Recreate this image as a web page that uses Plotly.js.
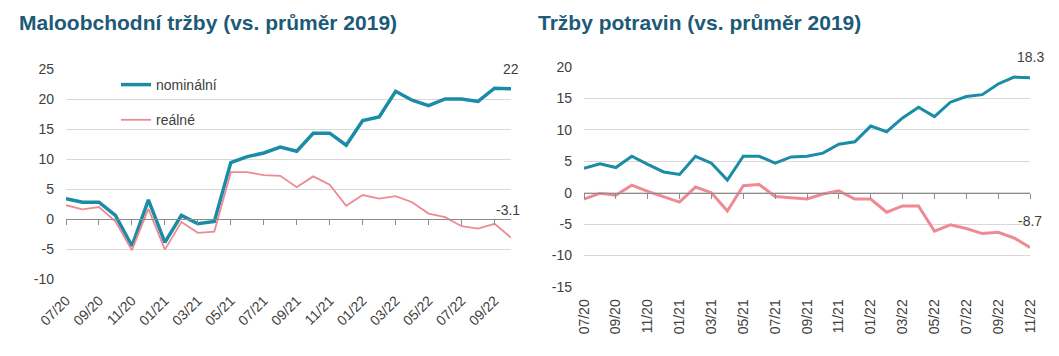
<!DOCTYPE html>
<html><head><meta charset="utf-8">
<script src="https://cdn.plot.ly/plotly-3.0.1.min.js"></script>
<style>body{margin:0;background:#fff}#c{width:1059px;height:356px}</style>
</head><body><div id="c"></div>
<script>
// Left chart: Maloobchodní tržby
const monthsL = ["07/20","08/20","09/20","10/20","11/20","12/20","01/21","02/21","03/21","04/21","05/21","06/21","07/21","08/21","09/21","10/21","11/21","12/21","01/22","02/22","03/22","04/22","05/22","06/22","07/22","08/22","09/22","10/22"];
const nominalL = [3.4,2.8,2.8,0.6,-4.5,3.2,-3.9,0.6,-0.8,-0.4,9.4,10.4,11.0,12.0,11.3,14.3,14.3,12.3,16.4,17.0,21.3,19.8,18.9,20.0,20.0,19.6,21.8,21.7];
const realL    = [2.3,1.6,2.0,-0.4,-5.2,1.7,-5.1,-0.5,-2.3,-2.1,7.8,7.8,7.3,7.2,5.3,7.1,5.7,2.2,4.0,3.4,3.8,2.8,0.9,0.3,-1.2,-1.6,-0.8,-3.1];
const ticksL = ["07/20","09/20","11/20","01/21","03/21","05/21","07/21","09/21","11/21","01/22","03/22","05/22","07/22","09/22"];
const yTicksL = [-10,-5,0,5,10,15,20,25];
const yTickTextL = ["-10","-5","0","5","10","15","20","25"];
const labelsL = ["22","-3.1"];

// Right chart: Tržby potravin
const monthsR = ["07/20","08/20","09/20","10/20","11/20","12/20","01/21","02/21","03/21","04/21","05/21","06/21","07/21","08/21","09/21","10/21","11/21","12/21","01/22","02/22","03/22","04/22","05/22","06/22","07/22","08/22","09/22","10/22","11/22"];
const nominalR = [3.9,4.6,4.0,5.8,4.5,3.3,2.9,5.8,4.7,2.0,5.8,5.8,4.7,5.7,5.8,6.3,7.7,8.1,10.6,9.7,11.9,13.6,12.1,14.4,15.3,15.6,17.3,18.4,18.3];
const realR    = [-1.0,-0.1,-0.4,1.2,0.2,-0.6,-1.5,0.9,0.0,-2.9,1.1,1.3,-0.6,-0.8,-1.0,-0.2,0.3,-1.0,-1.0,-3.1,-2.1,-2.1,-6.1,-5.1,-5.7,-6.5,-6.3,-7.2,-8.7];
const ticksR = ["07/20","09/20","11/20","01/21","03/21","05/21","07/21","09/21","11/21","01/22","03/22","05/22","07/22","09/22","11/22"];
const yTicksR = [-15,-10,-5,0,5,10,15,20];
const yTickTextR = ["-15","-10","-5","0","5","10","15","20"];
const labelsR = ["18.3","-8.7"];

const seriesNames = ["nominální","reálné"];
const titles = ["Maloobchodní tržby (vs. průměr 2019)","Tržby potravin (vs. průměr 2019)"];

const BLUE = "#1b8ca6", RED = "#ee8a93", TXT = "#404040", TITLE = "#1c5a78";
const W = 1059, H = 356;
const FONT = "Liberation Sans, Arial, sans-serif";

const yRangeL = [-10, 25], yRangeR = [-15, 20];
const yDomL = [1 - 279/H, 1 - 69/H], yDomR = [1 - 287/H, 1 - 67/H];
const xDomL = [66/W, 511/W], xDomR = [584/W, 1030/W];
const zeroPos = (dom, r) => dom[0] + (0 - r[0]) / (r[1] - r[0]) * (dom[1] - dom[0]);

const traces = [
  {x: monthsL, y: nominalL, name: seriesNames[0], type: "scatter", mode: "lines", line: {color: BLUE, width: 3.5}, xaxis: "x", yaxis: "y", legendgroup: "a"},
  {x: monthsL, y: realL, name: seriesNames[1], type: "scatter", mode: "lines", line: {color: RED, width: 1.8}, xaxis: "x", yaxis: "y", legendgroup: "b"},
  {x: monthsR, y: realR, name: seriesNames[1], type: "scatter", mode: "lines", line: {color: RED, width: 3}, xaxis: "x2", yaxis: "y2", showlegend: false},
  {x: monthsR, y: nominalR, name: seriesNames[0], type: "scatter", mode: "lines", line: {color: BLUE, width: 3}, xaxis: "x2", yaxis: "y2", showlegend: false}
];

const xCommon = {
  type: "category", showgrid: false, zeroline: false, showline: true, linecolor: "#8c8c8c", linewidth: 1,
  ticks: "outside", ticklen: 5, tickcolor: "#8c8c8c", tickfont: {family: FONT, size: 14, color: TXT},
  tickmode: "array", anchor: "free"
};
const yCommon = {
  showgrid: true, gridcolor: "#d9d9d9", gridwidth: 1, zeroline: false, showline: false, ticks: "",
  tickmode: "array", tickfont: {family: FONT, size: 14, color: TXT}
};

const layout = {
  width: W, height: H, margin: {l: 0, r: 0, t: 0, b: 0},
  paper_bgcolor: "#fff", plot_bgcolor: "rgba(0,0,0,0)", showlegend: true,
  xaxis: Object.assign({}, xCommon, {domain: xDomL, range: [0, monthsL.length - 1], tickvals: ticksL, ticktext: ticksL, tickangle: -45,
    position: zeroPos(yDomL, yRangeL), ticklabelstandoff: 62}),
  yaxis: Object.assign({}, yCommon, {domain: yDomL, range: yRangeL, anchor: "x", tickvals: yTicksL, ticktext: yTickTextL, ticklabelstandoff: 11}),
  xaxis2: Object.assign({}, xCommon, {domain: xDomR, range: [0, monthsR.length - 1], tickvals: ticksR, ticktext: ticksR, tickangle: -90,
    position: zeroPos(yDomR, yRangeR), ticklabelstandoff: 95}),
  yaxis2: Object.assign({}, yCommon, {domain: yDomR, range: yRangeR, anchor: "x2", tickvals: yTicksR, ticktext: yTickTextR, ticklabelstandoff: 11}),
  legend: {x: 116/W, y: 1 - 69/H, xanchor: "left", yanchor: "top", bgcolor: "rgba(0,0,0,0)", traceorder: "grouped",
    tracegroupgap: 14, font: {family: FONT, size: 14, color: TXT}, itemwidth: 30},
  annotations: [
    {text: titles[0], xref: "paper", yref: "paper", x: 17/W, y: 1 - 23/H, xanchor: "left", yanchor: "middle", showarrow: false,
      font: {family: FONT, size: 21, color: TITLE, weight: "bold"}},
    {text: titles[1], xref: "paper", yref: "paper", x: 536/W, y: 1 - 23/H, xanchor: "left", yanchor: "middle", showarrow: false,
      font: {family: FONT, size: 21, color: TITLE, weight: "bold"}},
    {text: labelsL[0], xref: "x", yref: "y", x: monthsL[monthsL.length-1], y: nominalL[nominalL.length-1], yshift: 20, showarrow: false,
      font: {family: FONT, size: 14, color: TXT}},
    {text: labelsL[1], xref: "x", yref: "y", x: monthsL[monthsL.length-1], y: realL[realL.length-1], yshift: 28, xshift: -3, showarrow: false,
      font: {family: FONT, size: 14, color: TXT}},
    {text: labelsR[0], xref: "x2", yref: "y2", x: monthsR[monthsR.length-1], y: nominalR[nominalR.length-1], yshift: 21, showarrow: false,
      font: {family: FONT, size: 14, color: TXT}},
    {text: labelsR[1], xref: "x2", yref: "y2", x: monthsR[monthsR.length-1], y: realR[realR.length-1], yshift: 26, showarrow: false,
      font: {family: FONT, size: 14, color: TXT}}
  ]
};

Plotly.newPlot("c", traces, layout, {staticPlot: true, displayModeBar: false});
</script>
</body></html>
